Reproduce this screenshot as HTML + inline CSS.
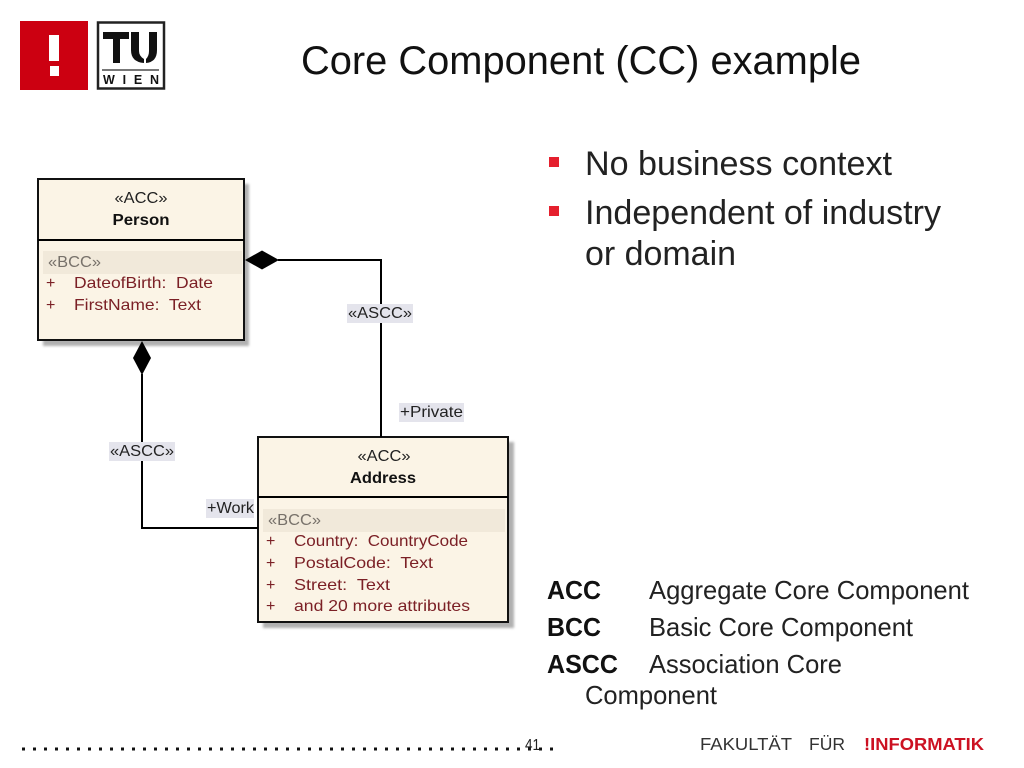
<!DOCTYPE html>
<html>
<head>
<meta charset="utf-8">
<style>
html,body{margin:0;padding:0;background:#fff;width:1024px;height:768px;overflow:hidden}
svg{display:block}
text{font-family:"Liberation Sans",sans-serif}
</style>
</head>
<body>
<svg width="1024" height="768" viewBox="0 0 1024 768" xmlns="http://www.w3.org/2000/svg">
<defs>
<filter id="b" x="-10%" y="-10%" width="120%" height="120%"><feGaussianBlur stdDeviation="1.200"/></filter>
</defs>
<!-- Logos -->
<rect x="20" y="21" width="68" height="69" fill="#cc0011"/>
<rect x="49" y="35" width="10" height="26" fill="#fff"/>
<rect x="50" y="66" width="9" height="10" fill="#fff"/>
<rect x="98" y="22.500" width="66" height="66" fill="#fff" stroke="#222" stroke-width="2.500"/>
<path d="M103 32H129V39H120V63H113V39H103Z" fill="#111"/>
<path d="M131 32H139V51Q139 56 144 59V63Q131 62 131 50ZM157 32V50Q157 62 146 63V59Q149 56 149 51V32Z" fill="#111"/>
<rect x="102" y="69" width="57" height="2" fill="#777"/>
<text x="103" y="84" font-size="12.500" font-weight="bold" fill="#111" textLength="56">WIEN</text>

<!-- Title -->
<text x="301" y="74" font-size="39.800" fill="#111" textLength="560" lengthAdjust="spacingAndGlyphs">Core Component (CC) example</text>

<!-- Person -->
<rect x="43" y="184" width="206" height="162" fill="#b0b0b0" filter="url(#b)"/>
<rect x="38" y="179" width="206" height="161" fill="#fbf4e6" stroke="#111" stroke-width="2"/>
<line x1="38" y1="240" x2="244" y2="240" stroke="#000" stroke-width="2"/>
<rect x="43" y="251" width="199" height="23" fill="#f1e9da"/>
<text x="141" y="203" font-size="16" text-anchor="middle" fill="#222" textLength="53" lengthAdjust="spacingAndGlyphs">«ACC»</text>
<text x="141" y="225" font-size="16" font-weight="bold" text-anchor="middle" fill="#111" textLength="57" lengthAdjust="spacingAndGlyphs">Person</text>
<text x="48" y="267" font-size="16" fill="#77716a" textLength="53" lengthAdjust="spacingAndGlyphs">«BCC»</text>
<g font-size="16" fill="#7b2026">
<text x="46" y="288">+</text>
<text x="74" y="288" textLength="139" lengthAdjust="spacingAndGlyphs" xml:space="preserve">DateofBirth:  Date</text>
<text x="46" y="310">+</text>
<text x="74" y="310" textLength="127" lengthAdjust="spacingAndGlyphs" xml:space="preserve">FirstName:  Text</text>
</g>

<!-- Address -->
<rect x="263" y="442" width="251" height="186" fill="#b0b0b0" filter="url(#b)"/>
<rect x="258" y="437" width="250" height="185" fill="#fbf4e6" stroke="#111" stroke-width="2"/>
<line x1="258" y1="497" x2="508" y2="497" stroke="#000" stroke-width="2"/>
<rect x="263" y="509" width="242" height="23" fill="#f1e9da"/>
<text x="384" y="461" font-size="16" text-anchor="middle" fill="#222" textLength="53" lengthAdjust="spacingAndGlyphs">«ACC»</text>
<text x="383" y="483" font-size="16" font-weight="bold" text-anchor="middle" fill="#111" textLength="66" lengthAdjust="spacingAndGlyphs">Address</text>
<text x="268" y="525" font-size="16" fill="#77716a" textLength="53" lengthAdjust="spacingAndGlyphs">«BCC»</text>
<g font-size="16" fill="#7b2026">
<text x="266" y="546">+</text>
<text x="294" y="546" textLength="174" lengthAdjust="spacingAndGlyphs" xml:space="preserve">Country:  CountryCode</text>
<text x="266" y="568">+</text>
<text x="294" y="568" textLength="139" lengthAdjust="spacingAndGlyphs" xml:space="preserve">PostalCode:  Text</text>
<text x="266" y="590">+</text>
<text x="294" y="590" textLength="96" lengthAdjust="spacingAndGlyphs" xml:space="preserve">Street:  Text</text>
<text x="266" y="611">+</text>
<text x="294" y="611" textLength="176" lengthAdjust="spacingAndGlyphs">and 20 more attributes</text>
</g>

<!-- Connectors -->
<g fill="none" stroke="#000" stroke-width="2">
<path d="M278 260H381V437"/>
<path d="M142 374V528H258"/>
</g>
<path d="M245 260L262 250.500L279 260L262 269.500Z" fill="#000"/>
<path d="M142 341L151 358L142 375L133 358Z" fill="#000"/>

<!-- Connector labels -->
<g fill="#e4e4ec">
<rect x="347" y="304" width="66" height="19"/>
<rect x="399" y="403" width="65" height="19"/>
<rect x="109" y="442" width="66" height="19"/>
<rect x="206" y="499" width="48" height="19"/>
</g>
<g font-size="16" fill="#222">
<text x="348" y="318" textLength="64" lengthAdjust="spacingAndGlyphs">«ASCC»</text>
<text x="400" y="417" textLength="63" lengthAdjust="spacingAndGlyphs">+Private</text>
<text x="110" y="456" textLength="64" lengthAdjust="spacingAndGlyphs">«ASCC»</text>
<text x="207" y="513" textLength="47" lengthAdjust="spacingAndGlyphs">+Work</text>
</g>

<!-- Bullets -->
<rect x="549" y="157" width="10" height="10" fill="#e5202e"/>
<rect x="549" y="206" width="10" height="10" fill="#e5202e"/>
<g font-size="34.100" fill="#222">
<text x="585" y="175" textLength="307" lengthAdjust="spacingAndGlyphs">No business context</text>
<text x="585" y="224" textLength="356" lengthAdjust="spacingAndGlyphs">Independent of industry</text>
<text x="585" y="265" textLength="151" lengthAdjust="spacingAndGlyphs">or domain</text>
</g>

<!-- Glossary -->
<g font-size="25.600" fill="#222">
<text x="547" y="599" font-weight="bold" fill="#111" textLength="54" lengthAdjust="spacingAndGlyphs">ACC</text>
<text x="649" y="599" textLength="320" lengthAdjust="spacingAndGlyphs">Aggregate Core Component</text>
<text x="547" y="636" font-weight="bold" fill="#111" textLength="54" lengthAdjust="spacingAndGlyphs">BCC</text>
<text x="649" y="636" textLength="264" lengthAdjust="spacingAndGlyphs">Basic Core Component</text>
<text x="547" y="673" font-weight="bold" fill="#111" textLength="71" lengthAdjust="spacingAndGlyphs">ASCC</text>
<text x="649" y="673" textLength="193" lengthAdjust="spacingAndGlyphs">Association Core</text>
<text x="585" y="704" textLength="132" lengthAdjust="spacingAndGlyphs">Component</text>
</g>

<!-- Footer -->
<line x1="22" y1="749" x2="553" y2="749" stroke="#111" stroke-width="3" stroke-dasharray="3 8"/>
<text x="525" y="750" font-size="16" fill="#222" textLength="15" lengthAdjust="spacingAndGlyphs">41</text>
<text x="700" y="750" font-size="17.500" fill="#333" textLength="92" lengthAdjust="spacingAndGlyphs">FAKULTÄT</text>
<text x="809" y="750" font-size="17.500" fill="#333" textLength="36" lengthAdjust="spacingAndGlyphs">FÜR</text>
<text x="864" y="750" font-size="17.500" font-weight="bold" fill="#cc1122" textLength="120" lengthAdjust="spacingAndGlyphs">!INFORMATIK</text>
</svg>
</body>
</html>
